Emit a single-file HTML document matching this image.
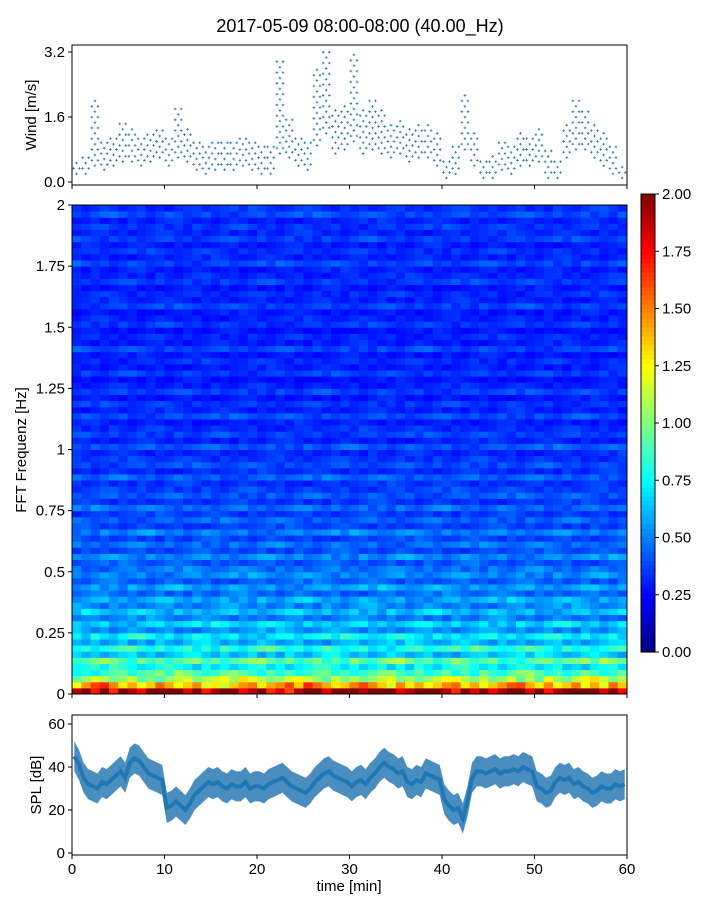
<!DOCTYPE html>
<html><head><meta charset="utf-8"><style>
body{margin:0;background:#fff;}
svg text{font-family:"Liberation Sans",sans-serif;fill:#000;}
</style></head><body>
<svg id="fig" width="720" height="900" xmlns="http://www.w3.org/2000/svg">
<text x="360" y="32" font-size="18" text-anchor="middle">2017-05-09 08:00-08:00 (40.00_Hz)</text>
<g id="wind"></g>
<g id="spec"></g>
<g id="cbar"></g>
<g id="spl"></g>
<text x="36" y="115" font-size="15" text-anchor="middle" transform="rotate(-90 36 115)">Wind [m/s]</text>
<text x="26" y="450" font-size="15" text-anchor="middle" transform="rotate(-90 26 450)">FFT Frequenz [Hz]</text>
<text x="41" y="785" font-size="15" text-anchor="middle" transform="rotate(-90 41 785)">SPL [dB]</text>
<text x="349" y="891" font-size="15" text-anchor="middle">time [min]</text>
</svg>
<script>
const windLo=[0.2,0.2,0.4,0.3,0.4,0.5,0.5,0.4,0.5,0.6,0.4,0.6,0.5,0.3,0.2,0.3,0.3,0.3,0.4,0.3,0.2,0.2,0.7,0.6,0.4,0.3,0.9,1.2,0.7,0.8,1.0,0.7,0.8,0.7,0.6,0.7,0.5,0.6,0.6,0.4,0.1,0.2,0.8,0.4,0.1,0.1,0.3,0.2,0.4,0.4,0.5,0.1,0.1,0.6,0.8,0.8,0.6,0.4,0.2,0.1];
const windHi=[0.5,0.7,2.0,1.0,1.1,1.5,1.3,1.1,1.2,1.3,1.1,1.8,1.3,1.0,0.9,1.0,1.0,1.0,1.1,1.0,0.9,0.9,3.0,1.6,1.1,1.0,2.8,3.2,1.8,1.9,3.2,1.8,2.0,1.8,1.5,1.6,1.3,1.4,1.5,1.2,0.6,0.9,2.2,1.3,0.6,0.7,1.0,0.9,1.3,1.1,1.4,0.8,0.6,1.5,2.0,1.8,1.5,1.2,0.9,0.4];
const windTicks=[0.0,1.6,3.2];
const rowProfile=[1.9,1.35,1.05,0.85,0.72,0.9,0.62,0.78,0.58,0.7,0.52,0.64,0.48,0.6,0.5,0.56,0.44,0.54,0.42,0.5,
0.46,0.4,0.5,0.38,0.45,0.37,0.48,0.36,0.42,0.35,0.44,0.34,0.4,0.36,0.33,0.42,0.32,0.38,0.34,0.31,
0.4,0.3,0.36,0.32,0.29,0.38,0.3,0.34,0.28,0.36,0.3,0.27,0.35,0.29,0.32,0.28,0.37,0.29,0.31,0.27,
0.34,0.3,0.28,0.36,0.3,0.32,0.28,0.35,0.31,0.29,0.37,0.3,0.33,0.29,0.36,0.31,0.34,0.3,0.38,0.33];
const colFactor=[1.0,1.12,0.9,1.05,0.88,1.15,1.0,0.92,1.08,1.2,1.25,1.1,0.95,1.05,0.9,1.0,1.15,1.05,0.92,1.0,1.1,0.88,0.95,0.85,1.0,1.08,1.12,0.95,1.05,1.1,1.2,1.0,1.25,1.15,1.05,0.95,1.0,1.12,1.2,1.1,1.0,0.88,1.1,0.95,1.05,0.92,1.0,1.1,1.15,0.95,1.05,0.9,1.0,1.08,1.18,1.2,1.05,0.95,1.1,0.92];
const freqTicks=[0,0.25,0.5,0.75,1,1.25,1.5,1.75,2];
const freqLabels=["0","0.25","0.5","0.75","1","1.25","1.5","1.75","2"];
const cbarTicks=["0.00","0.25","0.50","0.75","1.00","1.25","1.50","1.75","2.00"];
const splMid=[45,41,35,32,31,30,33,32,34,36,38,35,42,44,43,40,37,36,35,34,21,22,24,22,20,23,27,29,31,33,32,33,31,30,32,31,31,33,30,31,31,30,32,33,34,35,33,31,30,29,28,30,33,35,37,38,36,35,34,33,31,33,34,32,35,37,40,42,40,39,37,38,33,32,34,33,37,36,35,34,25,22,20,21,16,24,35,38,38,37,38,39,37,38,38,39,38,40,39,38,31,30,28,29,33,35,34,35,32,33,31,30,28,29,31,30,30,32,31,32];
const splTicks=[0,20,40,60];
const timeTicks=[0,10,20,30,40,50,60];
const NS='http://www.w3.org/2000/svg';
function el(p,t,a){const e=document.createElementNS(NS,t);for(const k in a)e.setAttribute(k,a[k]);p.appendChild(e);return e;}
const X0=72,X1=627;
const xs=t=>X0+(t/60)*(X1-X0);
function jet(v){v=Math.max(0,Math.min(1,v));const f=x=>Math.round(255*Math.max(0,Math.min(1,x)));
return `rgb(${f(1.5-Math.abs(4*v-3))},${f(1.5-Math.abs(4*v-2))},${f(1.5-Math.abs(4*v-1))})`;}
// wind
const W=document.getElementById('wind');
const wy=v=>182-(v/3.2)*(182-52);
for(let m=0;m<60;m++){for(let k=0;k<3;k++){const t=m+k*0.33+0.15;
 let j=0;
 for(let v=windLo[m];v<=windHi[m]+0.001;v+=0.133){j++;
  if((j+k)%2)continue;
  const p=el(W,'path',{d:`M${xs(t)-1.3},${wy(v)}h2.6M${xs(t)},${wy(v)-1.3}v2.6`,stroke:'#1f77b4','stroke-width':0.8});
  
  }}}
el(W,'rect',{x:X0,y:45,width:X1-X0,height:140,fill:'none',stroke:'#000','stroke-width':1});
windTicks.forEach(v=>{el(W,'line',{x1:X0-4,x2:X0,y1:wy(v),y2:wy(v),stroke:'#000'});
 const tx=el(W,'text',{x:X0-7,y:wy(v)+5,'font-size':15,'text-anchor':'end'});tx.textContent=v.toFixed(1);
 
 });
timeTicks.forEach(t=>el(W,'line',{x1:xs(t),x2:xs(t),y1:185,y2:189,stroke:'#000'}));
// spectrogram
const S=document.getElementById('spec');
const SY0=694,SY1=205;
const fy=f=>SY0-(f/2)*(SY0-SY1);
const nr=rowProfile.length;
for(let r=0;r<nr;r++)for(let c=0;c<60;c++){
 const val=rowProfile[r]*colFactor[(c+r*7)%60];
 const y1=fy((r+1)*2/nr),y0=fy(r*2/nr);
 const cell=el(S,'rect',{x:xs(c),y:y1,width:xs(c+1)-xs(c)+0.5,height:y0-y1+0.5,fill:jet(val/2)});
 
 }
el(S,'rect',{x:X0,y:SY1,width:X1-X0,height:SY0-SY1,fill:'none',stroke:'#000'});
freqTicks.forEach((f,i)=>{el(S,'line',{x1:X0-4,x2:X0,y1:fy(f),y2:fy(f),stroke:'#000'});
 const tx=el(S,'text',{x:X0-7,y:fy(f)+5,'font-size':15,'text-anchor':'end'});tx.textContent=freqLabels[i];
 
 });
timeTicks.forEach(t=>el(S,'line',{x1:xs(t),x2:xs(t),y1:SY0,y2:SY0+4,stroke:'#000'}));
// colorbar
const C=document.getElementById('cbar');
const CY0=652,CY1=194;
for(let i=0;i<100;i++){const y=CY0-(i+1)*(CY0-CY1)/100;el(C,'rect',{x:641,y:y,width:14,height:(CY0-CY1)/100+0.6,fill:jet((i+0.5)/100)});}
el(C,'rect',{x:641,y:CY1,width:14,height:CY0-CY1,fill:'none',stroke:'#000'});
cbarTicks.forEach((s,i)=>{const y=CY0-i*(CY0-CY1)/8;el(C,'line',{x1:655,x2:659,y1:y,y2:y,stroke:'#000'});
 const tx=el(C,'text',{x:662,y:y+5,'font-size':15});tx.textContent=s;
 
 });
// spl
const P=document.getElementById('spl');
const sy=v=>853-(v/20)*43;
let up='',dn='';
splMid.forEach((v,i)=>{const t=(i+0.5)*60/splMid.length;up+=(i?'L':'M')+xs(t)+','+sy(v+7);});
for(let i=splMid.length-1;i>=0;i--){const t=(i+0.5)*60/splMid.length;dn+='L'+xs(t)+','+sy(splMid[i]-7);}
const band=el(P,'path',{d:up+dn+'Z',fill:'#2a7ab5','fill-opacity':0.85});


let ln='';splMid.forEach((v,i)=>{ln+=(i?'L':'M')+xs((i+0.5)*60/splMid.length)+','+sy(v);});
const line=el(P,'path',{d:ln,fill:'none',stroke:'#1f77b4','stroke-width':4});


el(P,'rect',{x:X0,y:715,width:X1-X0,height:140,fill:'none',stroke:'#000'});
splTicks.forEach(v=>{el(P,'line',{x1:X0-4,x2:X0,y1:sy(v),y2:sy(v),stroke:'#000'});
 const tx=el(P,'text',{x:X0-7,y:sy(v)+5,'font-size':15,'text-anchor':'end'});tx.textContent=v;
 
 });
timeTicks.forEach(t=>{el(P,'line',{x1:xs(t),x2:xs(t),y1:855,y2:859,stroke:'#000'});
 const tx=el(P,'text',{x:xs(t),y:874,'font-size':15,'text-anchor':'middle'});tx.textContent=t;
 
 });
</script>
</body></html>
